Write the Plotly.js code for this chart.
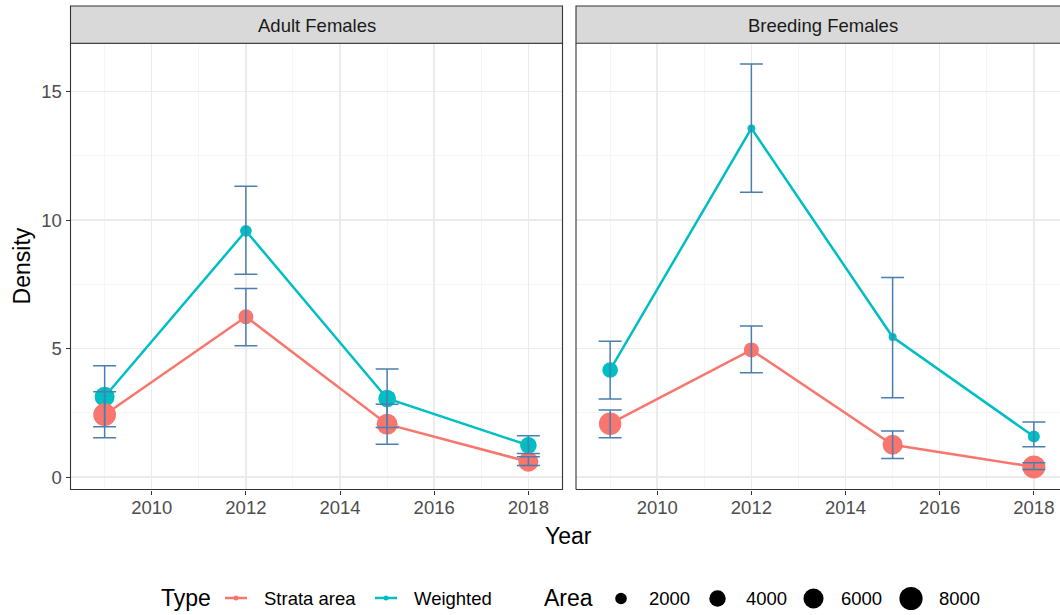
<!DOCTYPE html>
<html>
<head>
<meta charset="utf-8">
<script src="https://cdn.plot.ly/plotly-3.0.1.min.js"></script>
<style>html,body{margin:0;padding:0;background:#fff;}#chart{width:1060px;height:615px;}</style>
</head>
<body>
<div id="chart"></div>
<script>
// ---------------- data ----------------
const years = [2009, 2012, 2015, 2018];
const panels = ["Adult Females", "Breeding Females"];
const typeNames = ["Strata area", "Weighted"];

// Adult Females
const afStrata      = [2.43, 6.24, 2.06, 0.60];
const afStrataLo    = [1.53, 5.11, 1.28, 0.45];
const afStrataHi    = [3.32, 7.34, 2.84, 0.79];
const afStrataArea  = [7700, 3350, 6550, 5950];
const afWeighted     = [3.13, 9.58, 3.06, 1.24];
const afWeightedLo   = [1.96, 7.89, 1.93, 0.92];
const afWeightedHi   = [4.33, 11.32, 4.21, 1.61];
const afWeightedArea = [5950, 2050, 4650, 4150];

// Breeding Females
const bfStrata      = [2.08, 4.95, 1.26, 0.40];
const bfStrataLo    = [1.53, 4.06, 0.73, 0.30];
const bfStrataHi    = [2.61, 5.88, 1.80, 0.56];
const bfStrataArea  = [7500, 3350, 5950, 7850];
const bfWeighted     = [4.17, 13.57, 5.45, 1.58];
const bfWeightedLo   = [3.04, 11.08, 3.09, 1.18];
const bfWeightedHi   = [5.29, 16.07, 7.77, 2.15];
const bfWeightedArea = [3650, 900, 950, 2150];

const legendAreas = [2000, 4000, 6000, 8000];
const yTicks = [0, 5, 10, 15];
const xTicks = [2010, 2012, 2014, 2016, 2018];

// ---------------- style ----------------
const W = 1060, H = 615;
const fx = p => p / W;
const fy = p => 1 - p / H;
const RED = "#F8766D", TEAL = "#00BFC4", ERR = "#4A7EAF";
const FONT = "Liberation Sans, Arial, sans-serif";
const sizeOf = a => 11.6 * Math.sqrt(a / 2000);   // area scale -> diameter px

const P = {left: 70.5, midL: 562.5, midR: 576, top: 43.3, bottom: 489.5};

function lineTrace(y, color, xa, ya) {
  return {x: years, y: y, mode: "lines", line: {color: color, width: 2.5},
          xaxis: xa, yaxis: ya, hoverinfo: "skip", showlegend: false};
}
function pointTrace(y, area, color, xa, ya) {
  return {x: years, y: y, mode: "markers",
          marker: {color: color, size: area.map(sizeOf), line: {width: 0}, opacity: 1},
          xaxis: xa, yaxis: ya, hoverinfo: "skip", showlegend: false};
}
function errTrace(y, lo, hi, xa, ya) {
  return {x: years, y: y, mode: "markers", marker: {size: 1, opacity: 0},
          error_y: {type: "data", symmetric: false,
                    array: hi.map((h, i) => h - y[i]),
                    arrayminus: lo.map((l, i) => y[i] - l),
                    color: ERR, thickness: 1.5, width: 11.5},
          xaxis: xa, yaxis: ya, hoverinfo: "skip", showlegend: false};
}

const data = [
  lineTrace(afStrata, RED, "x", "y"),
  lineTrace(afWeighted, TEAL, "x", "y"),
  pointTrace(afWeighted, afWeightedArea, TEAL, "x", "y"),
  pointTrace(afStrata, afStrataArea, RED, "x", "y"),
  errTrace(afStrata, afStrataLo, afStrataHi, "x", "y"),
  errTrace(afWeighted, afWeightedLo, afWeightedHi, "x", "y"),
  lineTrace(bfStrata, RED, "x2", "y2"),
  lineTrace(bfWeighted, TEAL, "x2", "y2"),
  pointTrace(bfWeighted, bfWeightedArea, TEAL, "x2", "y2"),
  pointTrace(bfStrata, bfStrataArea, RED, "x2", "y2"),
  errTrace(bfStrata, bfStrataLo, bfStrataHi, "x2", "y2"),
  errTrace(bfWeighted, bfWeightedLo, bfWeightedHi, "x2", "y2")
];

const pxPerYear = (P.midL - P.left) / 10.45;
const xRangeL = [2008.275, 2018.725];
const xRangeR = [2008.275, 2008.275 + (W - P.midR) / pxPerYear];
const yRange = [-0.479, 16.875];

const gridCol = "#EBEBEB";
function xAxis(domain, range, anchor) {
  return {domain: domain, range: range, anchor: anchor, tickmode: "array", tickvals: xTicks,
          ticktext: xTicks.map(String), ticks: "outside", ticklen: 4, tickwidth: 1, tickcolor: "#333333",
          ticklabelstandoff: -3,
          tickfont: {family: FONT, size: 18.5, color: "#4D4D4D"},
          showgrid: true, gridcolor: gridCol, gridwidth: 1.5, zeroline: false, showline: false,
          minor: {tick0: 2009, dtick: 2, showgrid: true, gridcolor: "#F2F2F2", gridwidth: 0.8},
          fixedrange: true};
}
function yAxis(anchor, labels) {
  return {domain: [fy(P.bottom), fy(P.top)], range: yRange, anchor: anchor, tickmode: "array",
          tickvals: yTicks, ticktext: yTicks.map(String),
          showticklabels: labels, ticks: labels ? "outside" : "", ticklen: 4, tickwidth: 1,
          tickcolor: "#333333", tickfont: {family: FONT, size: 18.5, color: "#4D4D4D"},
          showgrid: true, gridcolor: gridCol, gridwidth: 1.5, zeroline: false, showline: false,
          minor: {tick0: 2.5, dtick: 5, showgrid: true, gridcolor: "#F2F2F2", gridwidth: 0.8},
          fixedrange: true};
}

const shapes = [
  // panel borders
  {type: "rect", xref: "paper", yref: "paper", x0: fx(P.left), x1: fx(P.midL), y0: fy(P.bottom), y1: fy(P.top),
   line: {color: "#333333", width: 1.1}, fillcolor: "rgba(0,0,0,0)"},
  {type: "line", xref: "paper", yref: "paper", x0: fx(P.midR), x1: fx(P.midR), y0: fy(P.bottom), y1: fy(P.top),
   line: {color: "#333333", width: 1.1}},
  {type: "line", xref: "paper", yref: "paper", x0: fx(P.midR), x1: 1, y0: fy(P.bottom), y1: fy(P.bottom),
   line: {color: "#333333", width: 1.1}},
  // strips
  {type: "rect", xref: "paper", yref: "paper", x0: fx(P.left), x1: fx(P.midL), y0: fy(P.top), y1: fy(6),
   line: {color: "#333333", width: 1.1}, fillcolor: "#D9D9D9"},
  {type: "rect", xref: "paper", yref: "paper", x0: fx(P.midR), x1: fx(1075), y0: fy(P.top), y1: fy(6),
   line: {color: "#333333", width: 1.1}, fillcolor: "#D9D9D9"},
  // legend keys (Type)
  {type: "line", xref: "paper", yref: "paper", x0: fx(225), x1: fx(247), y0: fy(598), y1: fy(598),
   line: {color: RED, width: 2.5}},
  {type: "line", xref: "paper", yref: "paper", x0: fx(375), x1: fx(397), y0: fy(598), y1: fy(598),
   line: {color: TEAL, width: 2.5}}
];
function dot(cx, cy, d, color) {
  return {type: "circle", xref: "paper", yref: "paper", xsizemode: "pixel", ysizemode: "pixel",
          xanchor: fx(cx), yanchor: fy(cy), x0: -d / 2, x1: d / 2, y0: -d / 2, y1: d / 2,
          fillcolor: color, line: {width: 0}};
}
shapes.push(dot(236, 598, 5, RED));
shapes.push(dot(386, 598, 5, TEAL));
const legDotX = [621, 717.5, 813.5, 911];
const legTextX = [647, 744, 839, 937];
legendAreas.forEach((a, i) => shapes.push(dot(legDotX[i], 598.5, sizeOf(a), "#000000")));

const annotations = [
  {text: panels[0], x: fx((P.left + P.midL) / 2), y: fy(25), xref: "paper", yref: "paper",
   showarrow: false, xanchor: "center", yanchor: "middle", font: {family: FONT, size: 18.5, color: "#1A1A1A"}},
  {text: panels[1], x: fx((P.midR + 1069) / 2), y: fy(25), xref: "paper", yref: "paper",
   showarrow: false, xanchor: "center", yanchor: "middle", font: {family: FONT, size: 18.5, color: "#1A1A1A"}},
  {text: "Density", x: fx(22), y: fy((P.top + P.bottom) / 2), xref: "paper", yref: "paper", textangle: -90,
   showarrow: false, xanchor: "center", yanchor: "middle", font: {family: FONT, size: 23, color: "#000000"}},
  {text: "Year", x: fx(568.5), y: fy(536), xref: "paper", yref: "paper",
   showarrow: false, xanchor: "center", yanchor: "middle", font: {family: FONT, size: 23, color: "#000000"}},
  {text: "Type", x: fx(159), y: fy(598), xref: "paper", yref: "paper",
   showarrow: false, xanchor: "left", yanchor: "middle", font: {family: FONT, size: 23, color: "#000000"}},
  {text: typeNames[0], x: fx(262), y: fy(598), xref: "paper", yref: "paper",
   showarrow: false, xanchor: "left", yanchor: "middle", font: {family: FONT, size: 18.5, color: "#000000"}},
  {text: typeNames[1], x: fx(412), y: fy(598), xref: "paper", yref: "paper",
   showarrow: false, xanchor: "left", yanchor: "middle", font: {family: FONT, size: 18.5, color: "#000000"}},
  {text: "Area", x: fx(542), y: fy(598), xref: "paper", yref: "paper",
   showarrow: false, xanchor: "left", yanchor: "middle", font: {family: FONT, size: 23, color: "#000000"}}
];
legendAreas.forEach((a, i) => annotations.push({
  text: String(a), x: fx(legTextX[i]), y: fy(598), xref: "paper", yref: "paper",
  showarrow: false, xanchor: "left", yanchor: "middle", font: {family: FONT, size: 18.5, color: "#000000"}}));

const layout = {
  width: W, height: H, margin: {l: 0, r: 0, t: 0, b: 0},
  paper_bgcolor: "#FFFFFF", plot_bgcolor: "#FFFFFF",
  showlegend: false,
  xaxis: xAxis([fx(P.left), fx(P.midL)], xRangeL, "y"),
  xaxis2: xAxis([fx(P.midR), 1], xRangeR, "y2"),
  yaxis: yAxis("x", true),
  yaxis2: yAxis("x2", false),
  shapes: shapes,
  annotations: annotations,
  font: {family: FONT}
};

Plotly.newPlot("chart", data, layout, {staticPlot: true, displayModeBar: false});
</script>
</body>
</html>
